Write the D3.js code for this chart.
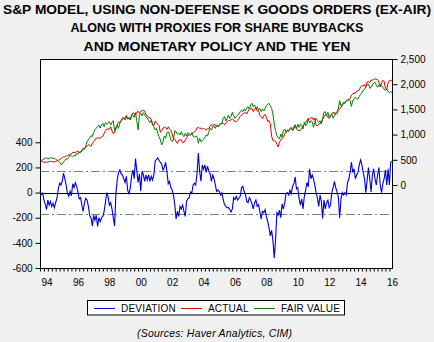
<!DOCTYPE html>
<html>
<head>
<meta charset="utf-8">
<script src="https://cdnjs.cloudflare.com/ajax/libs/d3/7.8.5/d3.min.js"></script>
<style>
body { margin: 0; background: #f0f0f0; }
svg text { font-family: "Liberation Sans", Arial, sans-serif; fill: #000; }
</style>
</head>
<body>
<script>
// monthly observations, Jan 1994 onwards
var startYear = 1994;

var deviation = [
  10, -15, -5, -60, -90, -135, -60, -100, -70, -110, -85, -120,
  -80, -40, 30, 75, 60, 90, 155, 110, 60, -10, -30, 10,
  -25, 70, 40, 80, 50, 5, -50, -40, -100, -150, -80, -45,
  -60, -110, -185, -200, -265, -180, -220, -180, -270, -200, -230, -200,
  -190, -150, -80, 0, -30, -100, -80, -130, -200, -265, -10, 100,
  160, 180, 150, 140, 110, 80, 130, 20, -15, 40, 130, 180,
  110, 270, 170, 80, 150, 10, 170, 140, 90, 140, 100, 140,
  90, 130, 100, 140, 250, 265, 275, 255, 240, 225, 180, 200,
  240, 170, 70, 90, 40, 20, -20, -95, -210, -150, -190, -110,
  -130, -100, -150, -190, -70, -50, -40, 5, -5, 60, 75, 60,
  150, 315, 170, 90, 220, 185, 220, 160, 210, 170, 150, 90,
  140, 110, 60, 10, 20, 10, -20, 0, -55, -95, -110, -120,
  -120, -135, -155, -130, -40, -55, -30, -60, -45, -30, 40, 50,
  10, -15, -70, -80, -40, -60, -90, -130, -80, -60, -110, -95,
  -150, -210, -150, -160, -135, -190, -230, -280, -345, -300, -380, -520,
  -380, -160, -180, -140, -200, -90, -130, -85, -10, 0, -20, 20,
  -10, 50, 70, 124, 30, 40, -50, -100, -50, -130, -30, 20,
  80, 45, 190, 110, 140, 110, 60, 0, -45, -110, -20, -70,
  -206, -60, -130, -80, -60, -120, -100, 0, 40, 90, 40, 5,
  -35, -200, -50, 0, -20, 0, -20, 80, 110, 160, 243, 160,
  190, 110, 140, 160, 220, 260, 220, 160, 110, 0, 100, 200,
  110, 5, 140, 190, 110, 60, 140, 200, 60, 0, 70, 110,
  180, 60, 190, 60, 240, 250
];

var actual = [
  472, 471, 463, 447, 451, 454, 455, 466, 466, 468, 462, 455,
  465, 481, 493, 507, 524, 540, 558, 560, 579, 582, 596, 614,
  614, 649, 647, 647, 661, 668, 644, 663, 674, 702, 737, 757,
  766, 798, 793, 766, 829, 859, 906, 925, 927, 939, 925, 954,
  964, 1021, 1076, 1112, 1109, 1108, 1156, 1074, 1020, 1032, 1144, 1191,
  1248, 1246, 1282, 1334, 1332, 1322, 1381, 1328, 1318, 1300, 1391, 1429,
  1425, 1388, 1443, 1462, 1421, 1462, 1474, 1485, 1469, 1395, 1374, 1330,
  1336, 1305, 1186, 1186, 1270, 1238, 1205, 1179, 1044, 1077, 1129, 1144,
  1140, 1101, 1154, 1112, 1080, 1014, 903, 912, 868, 824, 886, 898,
  896, 838, 846, 890, 936, 988, 993, 990, 1019, 1039, 1050, 1080,
  1132, 1144, 1124, 1130, 1104, 1133, 1106, 1088, 1118, 1118, 1169, 1199,
  1182, 1199, 1195, 1165, 1178, 1202, 1222, 1225, 1224, 1196, 1233, 1257,
  1278, 1277, 1294, 1311, 1292, 1254, 1260, 1288, 1317, 1363, 1389, 1416,
  1424, 1445, 1407, 1464, 1511, 1515, 1521, 1457, 1497, 1540, 1464, 1479,
  1378, 1354, 1317, 1371, 1403, 1341, 1257, 1281, 1217, 969, 883, 877,
  866, 806, 757, 848, 903, 923, 946, 1010, 1044, 1067, 1088, 1110,
  1123, 1090, 1153, 1197, 1125, 1083, 1079, 1087, 1122, 1171, 1199, 1242,
  1282, 1322, 1307, 1331, 1338, 1288, 1325, 1185, 1174, 1207, 1226, 1243,
  1300, 1352, 1389, 1386, 1341, 1323, 1359, 1404, 1443, 1437, 1394, 1422,
  1480, 1512, 1551, 1570, 1640, 1619, 1669, 1671, 1688, 1721, 1783, 1807,
  1822, 1817, 1864, 1864, 1889, 1947, 1974, 1962, 1993, 1938, 2045, 2055,
  2028, 2083, 2080, 2095, 2108, 2094, 2094, 2040, 1945, 2025, 2081, 2054,
  1918, 1904, 2022, 2075, 2065, 2084
];

var fairValue = [
  463, 490, 500, 515, 530, 545, 515, 530, 535, 545, 525, 535,
  509, 496, 470, 456, 403, 417, 463, 483, 522, 509, 549, 595,
  575, 562, 589, 575, 628, 615, 655, 642, 694, 728, 708, 774,
  860, 900, 940, 980, 960, 1040, 1100, 1130, 1157, 1190, 1130, 1190,
  1224, 1157, 1237, 1204, 1224, 1257, 1190, 1237, 1276, 1078, 1104, 1190,
  1124, 1224, 1270, 1303, 1323, 1290, 1356, 1303, 1343, 1290, 1369, 1389,
  1343, 1435, 1260, 1095, 1389, 1422, 1369, 1435, 1389, 1356, 1323, 1276,
  1237, 1290, 1224, 1157, 1091, 1124, 1025, 959, 893, 794, 860, 972,
  926, 1038, 1058, 992, 893, 860, 906, 1078, 1058, 1012, 1025, 992,
  1058, 992, 959, 1025, 972, 1038, 1012, 992, 1038, 972, 946, 972,
  960, 827, 926, 860, 880, 906, 946, 992, 972, 1058, 1124, 1091,
  1157, 1171, 1124, 1190, 1157, 1171, 1204, 1224, 1323, 1356, 1270, 1323,
  1389, 1323, 1356, 1442, 1376, 1323, 1356, 1389, 1402, 1455, 1488, 1455,
  1508, 1468, 1534, 1554, 1508, 1587, 1620, 1554, 1587, 1508, 1554, 1488,
  1521, 1455, 1508, 1468, 1521, 1574, 1600, 1620, 1574, 1521, 1409, 1210,
  1078, 979, 939, 913, 1012, 946, 1078, 1111, 1045, 1098, 1058, 1124,
  1144, 1078, 1111, 1190, 1111, 1204, 1144, 1210, 1190, 1111, 1243, 1177,
  1210, 1310, 1230, 1276, 1257, 1144, 1243, 1323, 1276, 1243, 1276, 1210,
  1323, 1442, 1455, 1376, 1442, 1343, 1389, 1409, 1323, 1376, 1429, 1455,
  1508, 1673, 1574, 1607, 1627, 1640, 1673, 1693, 1706, 1673, 1560, 1680,
  1700, 1740, 1720, 1700, 1760, 1800, 1830, 1880, 1892, 1958, 1984, 2004,
  1918, 1938, 1984, 2024, 2037, 1984, 1938, 1984, 1997, 1971, 1938, 1905,
  1872, 1905, 1852, 1839, 1852, 1839
];

var yearLabels = ["94", "96", "98", "00", "02", "04", "06", "08", "10", "12", "14", "16"];
var labelYears = [1994, 1996, 1998, 2000, 2002, 2004, 2006, 2008, 2010, 2012, 2014, 2016];
var leftTicks = [-600, -400, -200, 0, 200, 400];
var rightTicks = [0, 500, 1000, 1500, 2000, 2500];
var band = 172;

var titleLines = [
  "S&P MODEL, USING NON-DEFENSE K GOODS ORDERS (EX-AIR)",
  "ALONG WITH PROXIES FOR SHARE BUYBACKS",
  "AND MONETARY POLICY AND THE YEN"
];
var legendItems = [
  {name: "DEVIATION", color: "#0000c8"},
  {name: "ACTUAL", color: "#dd0000"},
  {name: "FAIR VALUE", color: "#008000"}
];

var W = 434, H = 342;
var box = {left: 40, right: 392, top: 59, bottom: 268};

var svg = d3.select("body").append("svg")
    .attr("width", W)
    .attr("height", H);

svg.append("rect").attr("width", W).attr("height", H).attr("fill", "#f0f0f0");

// title
var titleWidths = [428, 293, 267];
var titleBase = [13.5, 32, 50.5];
svg.selectAll(".title")
    .data(titleLines)
    .enter().append("text")
    .attr("class", "title")
    .attr("x", 217)
    .attr("y", function(d, i) { return titleBase[i]; })
    .attr("text-anchor", "middle")
    .attr("font-size", "13.5px")
    .attr("font-weight", "bold")
    .attr("textLength", function(d, i) { return titleWidths[i]; })
    .attr("lengthAdjust", "spacingAndGlyphs")
    .text(function(d) { return d; });

var n = actual.length;
var x = d3.scaleLinear()
    .domain([startYear, startYear + (n - 1) / 12])
    .range([box.left, box.right]);
var yLeft = d3.scaleLinear()
    .domain([-600, 400])
    .range([box.bottom, 142.3]);
var yRight = d3.scaleLinear()
    .domain([0, 2500])
    .range([185, box.top]);

function t(i) { return startYear + i / 12; }

svg.append("rect")
    .attr("x", box.left).attr("y", box.top)
    .attr("width", box.right - box.left)
    .attr("height", box.bottom - box.top)
    .attr("fill", "#fff");

// +/- one standard deviation bands
svg.selectAll(".band")
    .data([band, -band])
    .enter().append("line")
    .attr("x1", box.left).attr("x2", box.right)
    .attr("y1", function(d) { return Math.round(yLeft(d)) + 0.5; })
    .attr("y2", function(d) { return Math.round(yLeft(d)) + 0.5; })
    .attr("stroke", "#808080")
    .attr("stroke-dasharray", "9,3,2,3");

svg.append("line")
    .attr("x1", box.left).attr("x2", box.right)
    .attr("y1", Math.round(yLeft(0)) + 0.5).attr("y2", Math.round(yLeft(0)) + 0.5)
    .attr("stroke", "#000");

var devLine = d3.line()
    .x(function(d, i) { return x(t(i)); })
    .y(function(d) { return yLeft(d); });
var rightLine = d3.line()
    .x(function(d, i) { return x(t(i)); })
    .y(function(d) { return yRight(d); });

svg.append("path").datum(deviation)
    .attr("d", devLine)
    .attr("fill", "none")
    .attr("stroke", legendItems[0].color)
    .attr("stroke-width", 1.1);
svg.append("path").datum(actual)
    .attr("d", rightLine)
    .attr("fill", "none")
    .attr("stroke", legendItems[1].color)
    .attr("stroke-width", 1);
svg.append("path").datum(fairValue)
    .attr("d", rightLine)
    .attr("fill", "none")
    .attr("stroke", legendItems[2].color)
    .attr("stroke-width", 1);

// frame
svg.append("rect")
    .attr("x", box.left + 0.5).attr("y", box.top + 0.5)
    .attr("width", box.right - box.left)
    .attr("height", box.bottom - box.top)
    .attr("fill", "none")
    .attr("stroke", "#000");

// axes
var leftAxis = svg.append("g")
    .attr("transform", "translate(" + (box.left + 0.5) + ",0)")
    .call(d3.axisLeft(yLeft).tickValues(leftTicks).tickSize(5).tickPadding(3)
        .tickFormat(function(d) { return d < 0 ? "-" + Math.abs(d) : d; }));
var rightAxis = svg.append("g")
    .attr("transform", "translate(" + (box.right + 0.5) + ",0)")
    .call(d3.axisRight(yRight).tickValues(rightTicks).tickSize(5).tickPadding(3)
        .tickFormat(d3.format(",")));

var quarters = d3.range(0, n, 3).map(t);
var bottomAxis = svg.append("g")
    .attr("transform", "translate(0," + (box.bottom + 0.5) + ")")
    .call(d3.axisBottom(x).tickValues(quarters).tickSize(3).tickFormat(""));

[leftAxis, rightAxis, bottomAxis].forEach(function(g) {
  g.select(".domain").remove();
  g.selectAll("line").attr("stroke", "#000");
  g.selectAll("text").attr("font-size", "10px")
    .attr("font-family", "'Liberation Sans', Arial, sans-serif").attr("fill", "#000");
});

svg.selectAll(".year")
    .data(yearLabels)
    .enter().append("text")
    .attr("x", function(d, i) { return x(labelYears[i] + 0.45); })
    .attr("y", 286)
    .attr("text-anchor", "middle")
    .attr("font-size", "10px")
    .text(function(d) { return d; });

// legend
svg.append("rect")
    .attr("x", 87.5).attr("y", 300.5)
    .attr("width", 257).attr("height", 14.5)
    .attr("fill", "#fff")
    .attr("stroke", "#000");
var legendX = [94, 181, 254];
var item = svg.selectAll(".legend")
    .data(legendItems)
    .enter().append("g")
    .attr("transform", function(d, i) { return "translate(" + legendX[i] + ",308)"; });
item.append("line")
    .attr("x1", 0).attr("x2", 21)
    .attr("y1", 0.5).attr("y2", 0.5)
    .attr("stroke", function(d) { return d.color; });
item.append("text")
    .attr("x", 27).attr("y", 3.6)
    .attr("font-size", "10px")
    .attr("letter-spacing", "0.2px")
    .text(function(d) { return d.name; });

svg.append("text")
    .attr("x", 214.5).attr("y", 337)
    .attr("text-anchor", "middle")
    .attr("font-size", "10.5px")
    .attr("font-style", "italic")
    .attr("textLength", 155)
    .text("(Sources: Haver Analytics, CIM)");
</script>
</body>
</html>
